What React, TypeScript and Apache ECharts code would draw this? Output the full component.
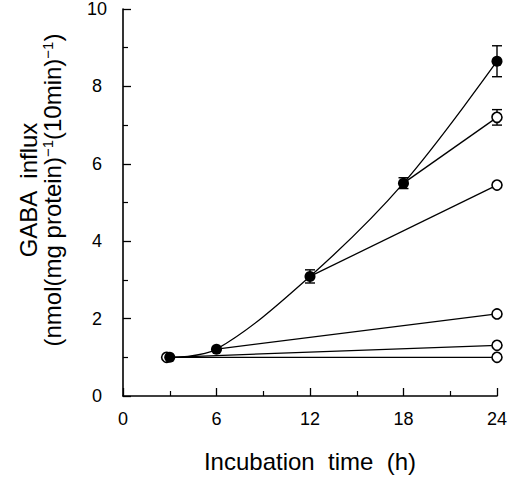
import React, { useEffect, useRef } from "react";
import * as echarts from "echarts";

const FONT = "'Liberation Sans', Arial, Helvetica, sans-serif";

// Axis ticks
const xMin = 0;
const xMax = 24;
const xInterval = 6;
const yMin = 0;
const yMax = 10;
const yInterval = 2;

// Filled-circle (main) time course
const mainTimes = [3, 6, 12, 18, 24];
const mainValues = [1.0, 1.21, 3.09, 5.5, 8.65];
const mainErrors = [0, 0, 0.17, 0.14, 0.4];

// Open-circle branches: start (time, value) -> value at 24 h
const branchStartTimes = [18, 12, 6, 3, 3];
const branchStartValues = [5.5, 3.09, 1.21, 1.0, 1.0];
const branchEndTime = 24;
const branchEndValues = [7.2, 5.45, 2.12, 1.31, 1.0];
const branchEndErrors = [0.2, 0, 0, 0, 0];

// Open-circle control at start
const openStartTime = 2.8;
const openStartValue = 1.0;

const App: React.FC = () => {
  const ref = useRef<HTMLDivElement>(null);

  useEffect(() => {
    if (!ref.current) return;
    const chart = echarts.init(ref.current, undefined, { renderer: "svg" });

    const errData: number[][] = [];
    mainTimes.forEach((t, i) => {
      if (mainErrors[i] > 0) errData.push([t, mainValues[i], mainErrors[i]]);
    });
    branchEndValues.forEach((v, i) => {
      if (branchEndErrors[i] > 0) errData.push([branchEndTime, v, branchEndErrors[i]]);
    });

    const branchSeries = branchStartTimes.map((t, i) => ({
      type: "line",
      data: [
        [t, branchStartValues[i]],
        [branchEndTime, branchEndValues[i]],
      ],
      showSymbol: false,
      symbol: "none",
      lineStyle: { color: "#000", width: 1.3 },
      z: 2,
      silent: true,
    }));

    const openPoints = branchEndValues.map((v) => [branchEndTime, v]);
    openPoints.push([openStartTime, openStartValue]);

    const axisCommon = {
      axisLine: { show: true, lineStyle: { color: "#000", width: 1.6 } },
      axisTick: { show: true, inside: true, length: 8, lineStyle: { color: "#000", width: 1.3 } },
      minorTick: { show: true, splitNumber: 2, length: 5, lineStyle: { color: "#000", width: 1.2 } },
      splitLine: { show: false },
      minorSplitLine: { show: false },
    };

    chart.setOption({
      animation: false,
      backgroundColor: "#fff",
      grid: { left: 123, right: 16, top: 8, bottom: 83, containLabel: false },
      xAxis: {
        type: "value",
        min: xMin,
        max: xMax,
        interval: xInterval,
        ...axisCommon,
        axisLabel: { color: "#000", fontSize: 18, fontFamily: FONT, margin: 14 },
      },
      yAxis: {
        type: "value",
        min: yMin,
        max: yMax,
        interval: yInterval,
        ...axisCommon,
        axisLabel: { color: "#000", fontSize: 18, fontFamily: FONT, margin: 26, align: "center" },
      },
      graphic: [
        {
          type: "text",
          x: 40,
          y: 190,
          rotation: Math.PI / 2,
          style: {
            text: "{a|GABA  influx}\n{a|(nmol(mg protein)}{s|−1}{a|(10min)}{s|−1}{a|)}",
            align: "center",
            verticalAlign: "middle",
            fill: "#000",
            rich: {
              a: { fontSize: 24, fontFamily: FONT, fill: "#000", lineHeight: 24 },
              s: { fontSize: 15, fontFamily: FONT, fill: "#000", verticalAlign: "top", lineHeight: 24 },
            },
          },
        },
        {
          type: "text",
          x: 310,
          y: 461,
          style: {
            text: "Incubation  time  (h)",
            align: "center",
            verticalAlign: "middle",
            fill: "#000",
            fontSize: 24,
            fontFamily: FONT,
          },
        },
      ],
      series: [
        {
          type: "custom",
          z: 1,
          silent: true,
          data: errData,
          renderItem: (params: any, api: any) => {
            const x = api.value(0);
            const y = api.value(1);
            const e = api.value(2);
            const top = api.coord([x, y + e]);
            const bot = api.coord([x, y - e]);
            const cw = 5;
            const st = { stroke: "#000", lineWidth: 1.4 };
            return {
              type: "group",
              children: [
                { type: "line", shape: { x1: top[0], y1: top[1], x2: bot[0], y2: bot[1] }, style: st },
                { type: "line", shape: { x1: top[0] - cw, y1: top[1], x2: top[0] + cw, y2: top[1] }, style: st },
                { type: "line", shape: { x1: bot[0] - cw, y1: bot[1], x2: bot[0] + cw, y2: bot[1] }, style: st },
              ],
            };
          },
        },
        ...branchSeries,
        {
          type: "scatter",
          data: openPoints,
          symbol: "circle",
          symbolSize: 10,
          itemStyle: { color: "#fff", borderColor: "#000", borderWidth: 1.6, opacity: 1 },
          z: 3,
          silent: true,
        },
        {
          type: "line",
          data: mainTimes.map((t, i) => [t, mainValues[i]]),
          smooth: 0.35,
          symbol: "circle",
          symbolSize: 11,
          showSymbol: true,
          lineStyle: { color: "#000", width: 1.3 },
          itemStyle: { color: "#000", borderColor: "#000", borderWidth: 0 },
          z: 4,
          silent: true,
        },
      ],
    });

    return () => chart.dispose();
  }, []);

  return (
    <div
      ref={ref}
      style={{ position: "fixed", left: 0, top: 0, width: 513, height: 479, background: "#fff" }}
    />
  );
};

export default App;
